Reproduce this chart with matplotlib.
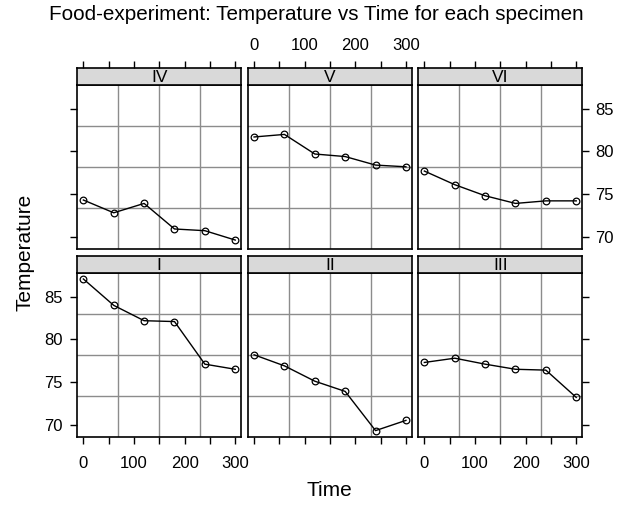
import matplotlib
matplotlib.use("Agg")
import matplotlib.pyplot as plt
import numpy as np

plt.rcParams["font.family"] = ["Liberation Sans", "DejaVu Sans"]

# data (Temperature vs Time per specimen)
time = [0, 60, 120, 180, 240, 300]
specimens = ["IV", "V", "VI", "I", "II", "III"]   # top row then bottom row
temp_IV = [74.3, 72.8, 73.9, 70.9, 70.7, 69.6]
temp_V = [81.7, 82.0, 79.7, 79.4, 78.4, 78.2]
temp_VI = [77.7, 76.1, 74.8, 73.9, 74.2, 74.2]
temp_I = [87.1, 84.0, 82.2, 82.1, 77.1, 76.5]
temp_II = [78.2, 76.9, 75.1, 73.9, 69.3, 70.5]
temp_III = [77.3, 77.8, 77.1, 76.5, 76.4, 73.2]
series = [temp_IV, temp_V, temp_VI, temp_I, temp_II, temp_III]

x_ticks = [0, 50, 100, 150, 200, 250, 300]
x_labels = ["0", "", "100", "", "200", "", "300"]
y_ticks = [70, 75, 80, 85]

W, H = 632, 512
fig = plt.figure(figsize=(W / 100, H / 100), dpi=100)


def box(x0, y0, w, h):
    # pixel box (top-left origin) -> figure fraction rect
    return [x0 / W, 1 - (y0 + h) / H, w / W, h / H]


col_left = [77.3, 248.0, 418.3]
pw, ph, sh = 164.0, 164.0, 17.0
row_strip_top = [68.0, 256.0]

xlim = (-12, 312)
ylim = (68.55, 87.8)
GRID = "#8c8c8c"
FS = 12

for i, (name, vals) in enumerate(zip(specimens, series)):
    row, col = divmod(i, 3)
    x0 = col_left[col]
    ys = row_strip_top[row]

    ax = fig.add_axes(box(x0, ys + sh, pw, ph))
    ax.set_xlim(*xlim)
    ax.set_ylim(*ylim)
    for gx in np.linspace(*xlim, 5)[1:-1]:
        ax.axvline(gx, color=GRID, lw=1, zorder=1)
    for gy in np.linspace(*ylim, 5)[1:-1]:
        ax.axhline(gy, color=GRID, lw=1, zorder=1)
    ax.plot(time, vals, "-", color="black", lw=1, zorder=3)
    ax.plot(time, vals, "o", mfc="none", mec="black", ms=4.8, mew=0.9, zorder=4)
    for s in ax.spines.values():
        s.set_linewidth(1.2)

    ax.set_xticks(x_ticks)
    ax.set_yticks(y_ticks)
    ax.tick_params(direction="out", length=5, width=1, labelsize=FS)
    # x axis: bottom row only, labels alternate
    if row == 1:
        ax.set_xticklabels(x_labels if col != 1 else [""] * 7)
        ax.tick_params(axis="x", bottom=True, pad=8.5)
    else:
        ax.tick_params(axis="x", bottom=False, labelbottom=False)
    # y axis: left column ticks, labels bottom row; right column ticks, labels top row
    ax.tick_params(axis="y", left=(col == 0), labelleft=(col == 0 and row == 1),
                   right=(col == 2), labelright=(col == 2 and row == 0), pad=5.5)
    if col == 2:
        ax.tick_params(axis="y", pad=4.5)

    st = fig.add_axes(box(x0, ys, pw, sh))
    st.set_facecolor("#d9d9d9")
    st.set_xlim(*xlim)
    st.set_ylim(0, 1)
    st.set_yticks([])
    for s in st.spines.values():
        s.set_linewidth(1.2)
    st.text(150, 0.45, name, ha="center", va="center", fontsize=12.5)
    if row == 0:
        st.set_xticks(x_ticks)
        st.set_xticklabels(x_labels if col == 1 else [""] * 7)
        st.tick_params(axis="x", direction="out", length=5, width=1, labelsize=FS,
                       bottom=False, labelbottom=False, top=True, labeltop=True, pad=5.5)
    else:
        st.set_xticks([])

fig.text(0.5, 1 - 15 / H, "Food-experiment: Temperature vs Time for each specimen",
         ha="center", va="center", fontsize=14.9)
fig.text(329.8 / W, 1 - 491 / H, "Time", ha="center", va="center", fontsize=15)
fig.text(25 / W, 1 - 252 / H, "Temperature", ha="center", va="center",
         rotation=90, fontsize=15)

fig.savefig("out.png", dpi=100)
